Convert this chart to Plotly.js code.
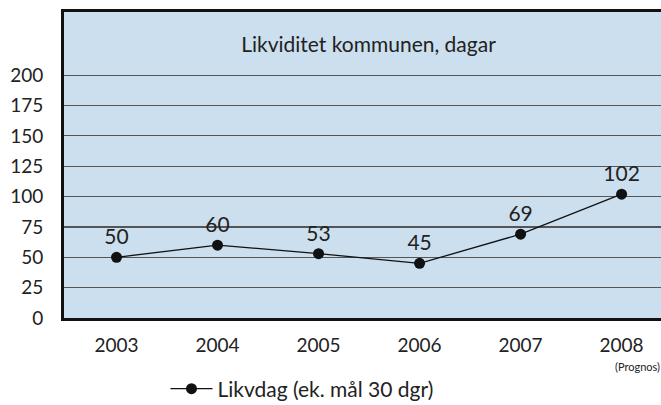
<!DOCTYPE html>
<html><head><meta charset="utf-8">
<script src="https://cdn.plot.ly/plotly-3.0.1.min.js"></script>
<style>html,body{margin:0;padding:0;background:#fff}#chart{width:661px;height:405px}</style>
</head><body><div id="chart"></div>
<script>
const years = ['2003','2004','2005','2006','2007','2008'];
const likvdag = [50, 60, 53, 45, 69, 102];
const seriesName = 'Likvdag (ek. mål 30 dgr)';
const chartTitle = 'Likviditet kommunen, dagar';
const yTicks = [0,25,50,75,100,125,150,175,200];
const FONT = 'Lato, "Open Sans", sans-serif';

const trace = {
  x: years, y: likvdag, type: 'scatter', mode: 'lines+markers+text',
  name: seriesName,
  text: likvdag.map(String), textposition: 'top center',
  textfont: {family: FONT, size: 21, color: '#222'},
  line: {color: '#111', width: 1.3},
  marker: {color: '#111', size: 11},
  cliponaxis: false
};

const layout = {
  width: 661, height: 405,
  margin: {l: 64, r: 0, t: 12, b: 87, autoexpand: false},
  paper_bgcolor: '#fff', plot_bgcolor: '#cbdfee',
  font: {family: FONT, color: '#222'},
  title: {text: chartTitle, font: {family: FONT, size: 21, color: '#222'},
          x: 0.51, xref: 'paper', y: 1 - 45/405, yref: 'container', yanchor: 'middle'},
  xaxis: {type: 'category', range: [-0.52, 5.39], showgrid: false, zeroline: false,
          showline: true, linecolor: '#111', linewidth: 3, mirror: true,
          ticks: 'outside', ticklen: 8, tickcolor: 'rgba(0,0,0,0)',
          tickfont: {family: FONT, size: 19, color: '#222'}},
  yaxis: {range: [0, 252], tickvals: yTicks, showgrid: true, gridcolor: '#555', gridwidth: 1.2,
          zeroline: false, showline: true, linecolor: '#111', linewidth: 3,
          ticks: 'outside', ticklen: 14, tickcolor: 'rgba(0,0,0,0)',
          tickfont: {family: FONT, size: 19, color: '#222'}},
  showlegend: true,
  legend: {orientation: 'h', x: 0.17, xanchor: 'left', y: -0.165, yanchor: 'top',
           itemwidth: 42,
           font: {family: FONT, size: 21, color: '#222'}, bgcolor: 'rgba(0,0,0,0)'},
  annotations: [{text: '(Prognos)', xref: 'x', x: 5, xshift: 16, yref: 'paper', y: -0.157,
                 yanchor: 'middle', showarrow: false, font: {family: FONT, size: 11, color: '#222'}}]
};

Plotly.newPlot('chart', [trace], layout, {displayModeBar: false, staticPlot: true});
</script></body></html>
